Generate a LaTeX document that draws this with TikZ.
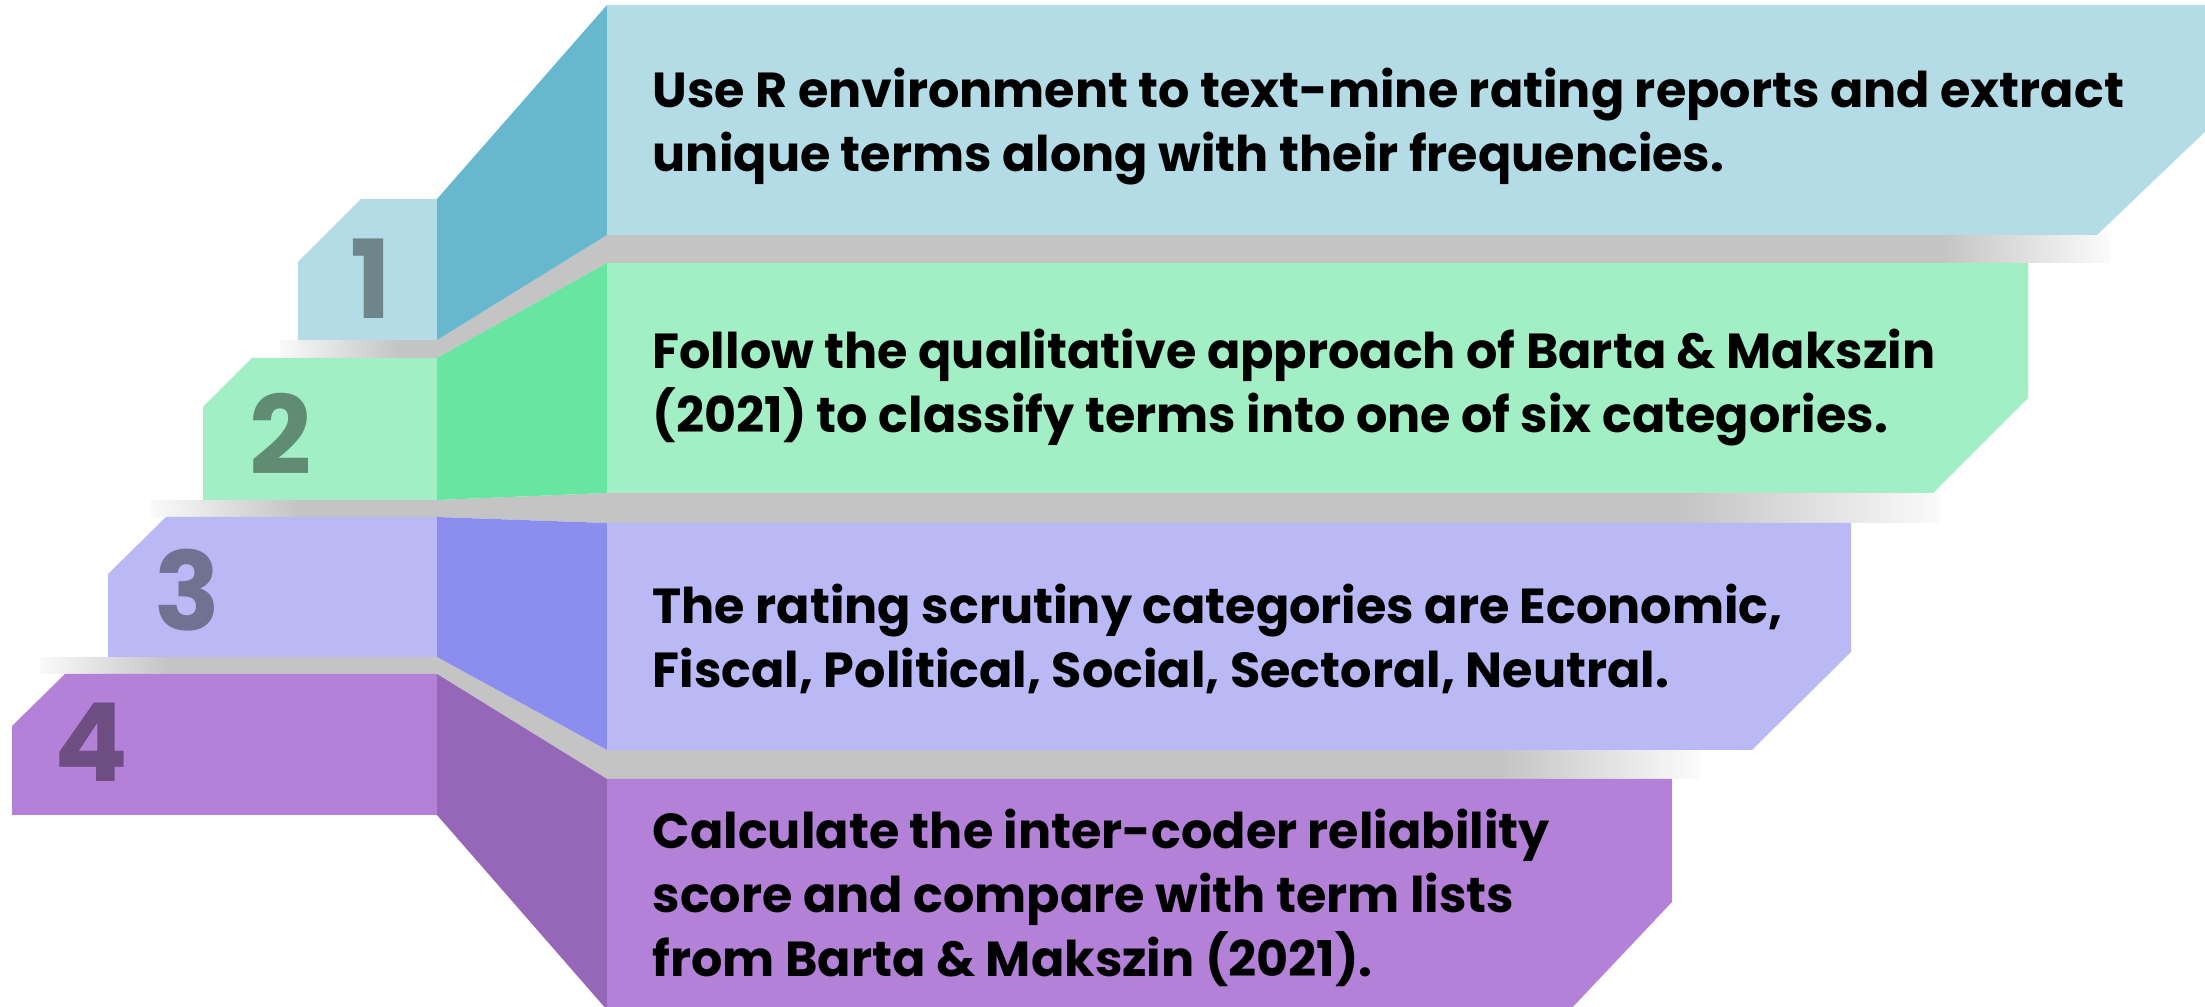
\documentclass[tikz,border=0pt]{standalone}
\usepackage{fontspec}
\setmainfont{Poppins}
\usetikzlibrary{fadings}
\definecolor{stepA}{RGB}{180,220,230}
\definecolor{sideA}{RGB}{103,183,206}
\definecolor{numA}{RGB}{110,133,138}
\definecolor{stepB}{RGB}{162,239,198}
\definecolor{sideB}{RGB}{104,229,160}
\definecolor{numB}{RGB}{95,140,114}
\definecolor{stepC}{RGB}{186,185,245}
\definecolor{sideC}{RGB}{140,142,239}
\definecolor{numC}{RGB}{113,113,146}
\definecolor{stepD}{RGB}{179,130,216}
\definecolor{sideD}{RGB}{150,102,185}
\definecolor{numD}{RGB}{110,78,130}
\definecolor{shadowgray}{RGB}{196,196,196}

\begin{document}
\begin{tikzpicture}[x=0.01cm, y=-0.01cm,
    steptext/.style={anchor=base west, align=left, inner sep=0pt,
                     font=\fontsize{14}{18.2}\selectfont\bfseries},
    stepnum/.style={inner sep=0pt, font=\fontsize{31}{31}\selectfont\bfseries},
    band/.style={fill=shadowgray},
    fadeleft/.style={fill=white, path fading=east},
    faderight/.style={fill=white, path fading=west}]
    \useasboundingbox (0,0) rectangle (2205,1007);

    % Shadow bands between the steps
    \fill[band] (280,340) -- (437,340) -- (607,235) -- (2110,235)
        -- (2110,263) -- (607,263) -- (437,358) -- (280,358) -- cycle;
    \fill[band] (150,500) -- (437,500) -- (607,493) -- (1940,493)
        -- (1940,523) -- (607,523) -- (437,517) -- (150,517) -- cycle;
    \fill[band] (40,657) -- (437,657) -- (607,750) -- (1700,750)
        -- (1700,779) -- (607,779) -- (437,674) -- (40,674) -- cycle;
    \fill[fadeleft] (270,330) rectangle (400,368);
    \fill[faderight] (1940,225) rectangle (2120,273);
    \fill[fadeleft] (140,490) rectangle (300,527);
    \fill[faderight] (1680,483) rectangle (1960,533);
    \fill[fadeleft] (30,647) rectangle (170,684);
    \fill[faderight] (1500,740) rectangle (1710,789);

    % Step 1
    \fill[stepA] (298,262) -- (361,199) -- (437,199) -- (437,340) -- (298,340) -- cycle;
    \fill[sideA] (437,199) -- (607,5) -- (607,235) -- (437,340) -- cycle;
    \fill[stepA] (607,5) -- (2210,5) -- (2210,127) -- (2097,235) -- (607,235) -- cycle;

    % Step 2
    \fill[stepB] (203,407) -- (252,358) -- (437,358) -- (437,500) -- (203,500) -- cycle;
    \fill[sideB] (437,358) -- (607,263) -- (607,493) -- (437,500) -- cycle;
    \fill[stepB] (607,263) -- (2028,263) -- (2028,398) -- (1933,493) -- (607,493) -- cycle;

    % Step 3
    \fill[stepC] (108,574) -- (166,517) -- (437,517) -- (437,657) -- (108,657) -- cycle;
    \fill[sideC] (437,517) -- (607,523) -- (607,750) -- (437,657) -- cycle;
    \fill[stepC] (607,523) -- (1851,523) -- (1851,652) -- (1752,750) -- (607,750) -- cycle;

    % Step 4
    \fill[stepD] (12,726) -- (65,674) -- (437,674) -- (437,815) -- (12,815) -- cycle;
    \fill[sideD] (437,674) -- (607,779) -- (607,1010) -- (437,815) -- cycle;
    \fill[stepD] (607,779) -- (1672,779) -- (1672,902) -- (1570,1010) -- (607,1010) -- cycle;

    % Numbers
    \node[stepnum, text=numA] (num1) at (371,279) {1};
    \node[stepnum, text=numB] (num2) at (281,434) {2};
    \node[stepnum, text=numC] (num3) at (187,590) {3};
    \node[stepnum, text=numD] (num4) at (91,742) {4};

    % Texts (anchored on the last line's baseline)
    \node[steptext] (txt1) at (652,172)
        {Use R environment to text-mine rating reports and extract\\
         unique terms along with their frequencies.};
    \node[steptext] (txt2) at (652,433)
        {Follow the qualitative approach of Barta \& Makszin\\
         (2021) to classify terms into one of six categories.};
    \node[steptext] (txt3) at (652,688)
        {The rating scrutiny categories are Economic,\\
         Fiscal, Political, Social, Sectoral, Neutral.};
    \node[steptext] (txt4) at (652,977)
        {Calculate the inter-coder reliability\\
         score and compare with term lists\\
         from Barta \& Makszin (2021).};
\end{tikzpicture}
\end{document}
